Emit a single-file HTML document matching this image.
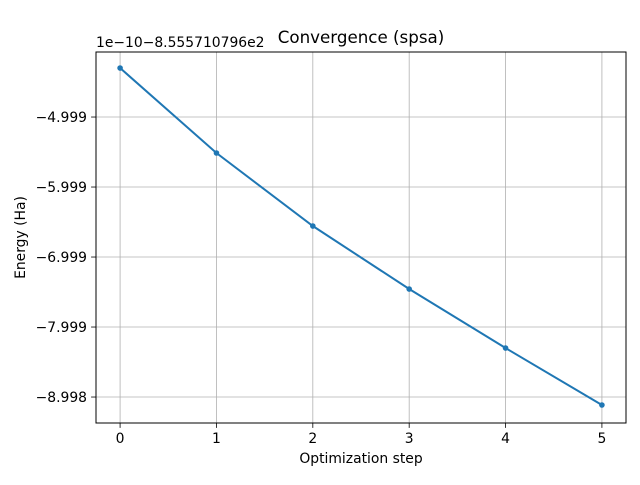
<!DOCTYPE html>
<html><head><meta charset="utf-8"><style>
body{margin:0;background:#fff;font-family:"Liberation Sans","DejaVu Sans",sans-serif}
svg text{font-family:"DejaVu Sans","Liberation Sans",sans-serif;fill:#000}
</style></head><body>
<svg id="chart" width="640" height="480" xmlns="http://www.w3.org/2000/svg"></svg>
<script>
const steps=[0,1,2,3,4,5];
const energies=[-4.30,-5.514,-6.557,-7.457,-8.30,-9.114];
const yTicks=[-5,-6,-7,-8,-9];
const yTickLabels=["\u22124.999","\u22125.999","\u22126.999","\u22127.999","\u22128.998"];
const xTicks=[0,1,2,3,4,5];
const L=96,R=626,T=52,B=423;
const xMin=-0.25,xMax=5.25,yMin=-9.371,yMax=-4.071;
const sx=v=>L+(v-xMin)/(xMax-xMin)*(R-L);
const sy=v=>B-(v-yMin)/(yMax-yMin)*(B-T);
const svg=document.getElementById('chart');
const NS="http://www.w3.org/2000/svg";
function mk(t,a,txt){const e=document.createElementNS(NS,t);for(const k in a)e.setAttribute(k,a[k]);if(txt!=null)e.textContent=txt;svg.appendChild(e);return e;}
xTicks.forEach(t=>{
 const g=mk('line',{x1:sx(t),x2:sx(t),y1:T,y2:B,stroke:'#b0b0b0','stroke-width':0.8});
 
 
 mk('line',{x1:sx(t),x2:sx(t),y1:B,y2:B+4.9,stroke:'#000','stroke-width':0.8});
 const l=mk('text',{x:sx(t),y:B+20,'font-size':13.9,'text-anchor':'middle'},String(t));
 
 
});
yTicks.forEach((t,i)=>{
 const g=mk('line',{x1:L,x2:R,y1:sy(t),y2:sy(t),stroke:'#b0b0b0','stroke-width':0.8});
 
 
 mk('line',{x1:L-4.9,x2:L,y1:sy(t),y2:sy(t),stroke:'#000','stroke-width':0.8});
 const l=mk('text',{x:L-9,y:sy(t)+5,'font-size':13.9,'text-anchor':'end'},yTickLabels[i]);
 
 
});
const line=mk('polyline',{points:steps.map((s,i)=>sx(s)+','+sy(energies[i])).join(' '),fill:'none',stroke:'#1f77b4','stroke-width':2});


steps.forEach((s,i)=>{
 const c=mk('circle',{cx:sx(s),cy:sy(energies[i]),r:2.8,fill:'#1f77b4'});
 
 
});
const fr=mk('rect',{x:L,y:T,width:R-L,height:B-T,fill:'none',stroke:'#000','stroke-width':1});


const ti=mk('text',{x:(L+R)/2,y:T-9,'font-size':16.7,'text-anchor':'middle'},'Convergence (spsa)');


const off=mk('text',{x:L,y:T-5,'font-size':13.9},'1e\u221210\u22128.555710796e2');


const xl=mk('text',{x:(L+R)/2,y:B+40,'font-size':13.9,'text-anchor':'middle'},'Optimization step');


const yl=mk('text',{x:25,y:(T+B)/2,'font-size':13.9,'text-anchor':'middle',transform:'rotate(-90 25 '+((T+B)/2)+')'},'Energy (Ha)');


</script>
</body></html>
